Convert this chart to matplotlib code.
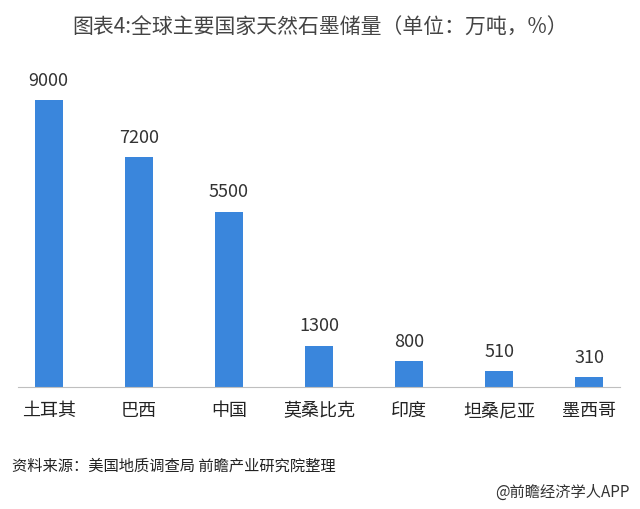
import matplotlib
matplotlib.use("Agg")
import matplotlib.pyplot as plt

plt.rcParams["font.family"] = ["Noto Sans CJK SC", "DejaVu Sans"]

countries = ["土耳其", "巴西", "中国", "莫桑比克", "印度", "坦桑尼亚", "墨西哥"]
reserves = [9000, 7200, 5500, 1300, 800, 510, 310]

fig = plt.figure(figsize=(6.4, 5.1), dpi=100)
ax = fig.add_axes([18 / 640, 1 - 388 / 510, 602 / 640, 319 / 510])

x = range(len(countries))
ax.bar(x, reserves, width=0.31, color="#3a86dc")
for xi, v in zip(x, reserves):
    ax.text(xi, v + 350, str(v), ha="center", va="bottom", fontsize=13, color="#333333")

ax.set_xlim(-0.34, 6.34)
ax.set_ylim(0, 10000)
ax.set_yticks([])
ax.set_xticks(list(x))
ax.set_xticklabels(countries, fontsize=13, color="#222222")
ax.tick_params(axis="x", length=0, pad=10)
for s in ["top", "left", "right"]:
    ax.spines[s].set_visible(False)
ax.spines["bottom"].set_color("#bfbfbf")

fig.text(0.5, 1 - 28 / 510, "图表4:全球主要国家天然石墨储量（单位：万吨，%）",
         ha="center", va="center", fontsize=15, color="#444444")
fig.text(12 / 640, 1 - 466 / 510, "资料来源：美国地质调查局 前瞻产业研究院整理",
         ha="left", va="center", fontsize=11, style="italic", color="#222222")
fig.text(630 / 640, 1 - 492 / 510, "@前瞻经济学人APP",
         ha="right", va="center", fontsize=11, color="#333333")

fig.savefig("out.png", dpi=100)
